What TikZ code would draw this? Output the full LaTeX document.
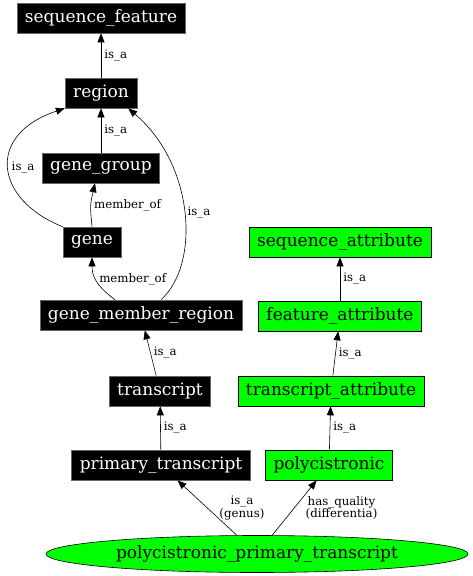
\documentclass[tikz,border=0pt]{standalone}
\usepackage{fontspec}
\setmainfont{DejaVu Serif}
\usetikzlibrary{shapes,arrows.meta}
\definecolor{attrgreen}{HTML}{00FF00}
\tikzset{
    term/.style={draw=black!60, fill=black, text=white, minimum height=30pt, inner xsep=8pt, font=\fontsize{17}{19}\selectfont},
    attr/.style={draw=black, fill=attrgreen, minimum height=30pt, inner xsep=8pt, font=\fontsize{17}{19}\selectfont},
    rel/.style={font=\fontsize{11.8}{12.5}\selectfont, inner sep=3pt},
}
\begin{document}
\begin{tikzpicture}[x=1pt, y=-1pt, >={Triangle[length=9pt,width=7pt]}, line width=0.6pt]
    \useasboundingbox (0,0) rectangle (472,576);

    % terms
    \node[term] (seqfeat) at (101,18) {sequence\_feature};
    \node[term] (region) at (101,93) {region};
    \node[term] (genegroup) at (101,168) {gene\_group};
    \node[term] (gene) at (92,242) {gene};
    \node[term] (gmr) at (141,315) {gene\_member\_region};
    \node[term] (transcript) at (160,391) {transcript};
    \node[term] (primary) at (161,465) {primary\_transcript};

    % attributes
    \node[attr] (seqattr) at (340,242) {sequence\_attribute};
    \node[attr] (featattr) at (340,316) {feature\_attribute};
    \node[attr] (trattr) at (331,391) {transcript\_attribute};
    \node[attr] (poly) at (329,465) {polycistronic};

    \node[attr, ellipse, minimum width=422pt, minimum height=37pt, inner sep=0pt] (ppt) at (257,554) {polycistronic\_primary\_transcript};

    % is_a chain
    \draw[->] (region) -- (seqfeat) node[midway, right, rel] {is\_a};
    \draw[->] (genegroup) -- (region) node[midway, right, rel] {is\_a};
    \draw[->] (gene.north west) .. controls (-5,200) and (-15,135) .. (region.south west) node[pos=0.5, right, rel] {is\_a};
    \draw[->] (gene.north) .. controls (90,205) .. ([xshift=-6pt]genegroup.south) node[midway, right, rel] {member\_of};
    \draw[->] ([xshift=-26pt]gmr.north) .. controls (95,285) and (92,275) .. (gene.south) node[midway, right, rel] {member\_of};
    \draw[->] ([xshift=20pt]gmr.north) .. controls (200,265) and (195,165) .. ([xshift=-9pt]region.south east) node[pos=0.5, right, rel] {is\_a};
    \draw[->] (transcript) -- (gmr) node[midway, right, rel] {is\_a};
    \draw[->] (primary) -- (transcript) node[midway, right, rel] {is\_a};

    \draw[->] (poly) -- (trattr) node[midway, right, rel] {is\_a};
    \draw[->] (trattr) -- (featattr) node[midway, right, rel] {is\_a};
    \draw[->] (featattr) -- (seqattr) node[midway, right, rel] {is\_a};

    % genus and differentia
    \draw[->] (ppt) -- (primary) node[midway, right, rel, align=center, xshift=9pt] {is\_a\\(genus)};
    \draw[->] (ppt) -- (poly) node[midway, right, rel, align=center, xshift=8pt] {has\_quality\\(differentia)};
\end{tikzpicture}
\end{document}
